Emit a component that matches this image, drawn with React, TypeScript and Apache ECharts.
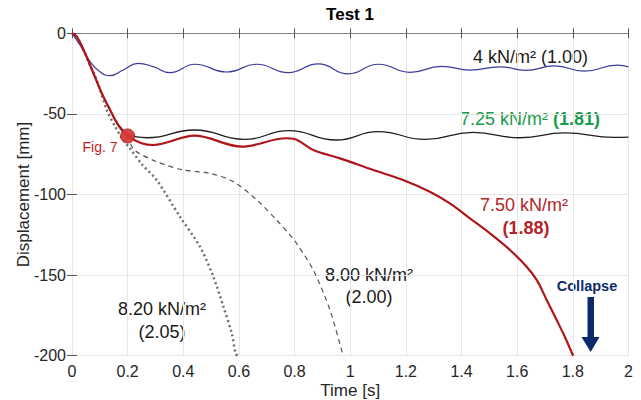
import React, { useEffect, useRef } from "react";
import * as echarts from "echarts";

const FONT = '"Liberation Sans", Arial, Helvetica, sans-serif';

// x axis ticks (s) and y axis ticks (mm)
const xTicks = [0, 0.2, 0.4, 0.6, 0.8, 1, 1.2, 1.4, 1.6, 1.8, 2];
const yTicks = [-200, -150, -100, -50, 0];

// 4 kN/m2 (1.00) - blue
const blueT = [0, 0.029, 0.065, 0.1, 0.137, 0.184, 0.238, 0.292, 0.352, 0.442, 0.556, 0.664, 0.777, 0.885, 0.993, 1.101, 1.215, 1.328, 1.43, 1.54, 1.63, 1.735, 1.84, 1.96, 2.0];
const blueD = [0, -7.3, -17.6, -23.8, -26.3, -22.8, -18.6, -20.7, -24.4, -19.2, -24, -19.2, -24.4, -19, -25.2, -19.2, -24.2, -20.5, -22.8, -20.8, -23, -20.2, -23.5, -19.8, -20.8];

// 7.25 kN/m2 (1.81) - black
const blackT = [0, 0.017, 0.047, 0.077, 0.107, 0.137, 0.166, 0.197, 0.232, 0.27, 0.44, 0.62, 0.78, 0.95, 1.1, 1.27, 1.44, 1.61, 1.77, 1.95, 2.0];
const blackD = [0, -2.1, -12.4, -24.8, -37.2, -47.6, -56.5, -62, -64.3, -64.8, -60, -65.8, -60.4, -66.2, -61, -65.8, -61.4, -64.8, -61.8, -64.6, -64.4];

// 7.50 kN/m2 (1.88) - red
const redT = [0, 0.017, 0.047, 0.077, 0.107, 0.137, 0.166, 0.2, 0.25, 0.292, 0.44, 0.61, 0.77, 0.8, 0.867, 0.963, 1.083, 1.19, 1.286, 1.358, 1.43, 1.502, 1.574, 1.634, 1.67, 1.706, 1.742, 1.771, 1.801];
const redD = [0, -2.1, -12.4, -24.8, -37.2, -47.6, -56.9, -63.7, -68.2, -69.3, -63.5, -70.3, -65.1, -65.6, -72.4, -77.6, -84.8, -91, -98.3, -105.5, -114.8, -124.1, -134.4, -144.8, -153, -165.4, -177.9, -188.2, -200];

// 8.00 kN/m2 (2.00) - dashed
const dashT = [0, 0.017, 0.047, 0.077, 0.107, 0.137, 0.166, 0.2, 0.225, 0.304, 0.4, 0.496, 0.58, 0.664, 0.735, 0.783, 0.807, 0.867, 0.927, 0.969, 0.975];
const dashD = [0, -2.1, -12.4, -24.8, -37.2, -47.6, -56.9, -65, -72.5, -79.6, -84.8, -86.9, -92, -103.4, -115.8, -125, -130.3, -146.8, -171.6, -196.5, -200];

// 8.20 kN/m2 (2.05) - dotted
const dotT = [0, 0.015, 0.041, 0.065, 0.089, 0.125, 0.155, 0.184, 0.208, 0.25, 0.304, 0.388, 0.46, 0.508, 0.544, 0.574, 0.588, 0.595];
const dotD = [0, -1.5, -10.3, -20, -29, -47.6, -57.9, -66.2, -71.3, -81, -91, -113.8, -132.4, -151, -169.6, -186.1, -198.5, -200];

// Fig. 7 marker
const figT = [0.2];
const figD = [-63.7];

const zip = (a: number[], b: number[]) => a.map((v, i) => [v, b[i]]);

const GREEN = "#1b9a4b";
const RED_TXT = "#b32428";
const NAVY = "#0c2a6a";

export default function App() {
  const ref = useRef<HTMLDivElement>(null);
  useEffect(() => {
    if (!ref.current) return;
    const chart = echarts.init(ref.current, undefined, { renderer: "svg" });
    const axisLineStyle = { color: "#808080", width: 1 };
    const tickStyle = { color: "#555555", width: 1 };
    const option: any = {
      animation: false,
      backgroundColor: "#ffffff",
      textStyle: { fontFamily: FONT },
      grid: { left: 72, right: 12.5, top: 33.3, bottom: 44.3, containLabel: false, outerBoundsMode: "none" },
      xAxis: [
        {
          type: "value",
          min: xTicks[0],
          max: xTicks[xTicks.length - 1],
          interval: 0.2,
          position: "bottom",
          axisLine: { show: true, lineStyle: axisLineStyle },
          axisTick: { show: true, inside: true, length: 5, lineStyle: tickStyle },
          axisLabel: { fontSize: 16, color: "#262626", margin: 8, fontFamily: FONT },
          splitLine: { show: true, lineStyle: { color: "#e6e6e6", width: 1 } },
          name: "Time [s]",
          nameLocation: "middle",
          nameGap: 26,
          nameMoveOverlap: false,
          nameTextStyle: { fontSize: 17, color: "#262626", fontFamily: FONT },
        },
        {
          type: "value",
          min: xTicks[0],
          max: xTicks[xTicks.length - 1],
          interval: 0.2,
          position: "top",
          axisLine: { show: true, lineStyle: axisLineStyle },
          axisTick: { show: true, inside: true, length: 5, lineStyle: tickStyle },
          axisLabel: { show: false },
          splitLine: { show: false },
        },
      ],
      yAxis: [
        {
          type: "value",
          min: yTicks[0],
          max: yTicks[yTicks.length - 1],
          interval: 50,
          position: "left",
          axisLine: { show: false },
          axisTick: { show: true, inside: true, length: 5, lineStyle: tickStyle },
          axisLabel: { fontSize: 16, color: "#262626", margin: 6, fontFamily: FONT },
          splitLine: { show: true, lineStyle: { color: "#e6e6e6", width: 1 } },
          name: "Displacement [mm]",
          nameLocation: "middle",
          nameGap: 40,
          nameMoveOverlap: false,
          nameRotate: 90,
          nameTextStyle: { fontSize: 17, color: "#262626", fontFamily: FONT },
        },
        {
          type: "value",
          min: yTicks[0],
          max: yTicks[yTicks.length - 1],
          interval: 50,
          position: "right",
          axisLine: { show: false },
          axisTick: { show: true, inside: true, length: 5, lineStyle: tickStyle },
          axisLabel: { show: false },
          splitLine: { show: false },
        },
      ],
      series: [
        {
          type: "line",
          showSymbol: false,
          smooth: 0.5,
          name: "4 kN/m²",
          data: zip(blueT, blueD),
          lineStyle: { color: "#3a3a9c", width: 1.2 },
          z: 2,
        },
        {
          type: "line",
          showSymbol: false,
          smooth: 0.5,
          name: "7.25 kN/m²",
          data: zip(blackT, blackD),
          lineStyle: { color: "#1e1e1e", width: 1.3 },
          z: 3,
        },
        {
          type: "line",
          showSymbol: false,
          smooth: 0.3,
          name: "8.00 kN/m²",
          data: zip(dashT, dashD),
          lineStyle: { color: "#555555", width: 1.2, type: [5, 4] },
          z: 4,
        },
        {
          type: "line",
          showSymbol: false,
          smooth: 0.3,
          name: "8.20 kN/m²",
          data: zip(dotT, dotD),
          lineStyle: { color: "#6e6e6e", width: 2.5, type: [2, 3] },
          z: 4,
        },
        {
          type: "line",
          showSymbol: false,
          smooth: 0.35,
          name: "7.50 kN/m²",
          data: zip(redT, redD),
          lineStyle: { color: "#b0151a", width: 2.2 },
          z: 5,
        },
        {
          name: "Fig. 7",
          type: "scatter",
          data: zip(figT, figD),
          symbol: "circle",
          symbolSize: 14,
          itemStyle: { color: "#d83636", borderColor: "#b01c1c", borderWidth: 1, opacity: 0.92 },
          z: 6,
        },
      ],
      graphic: [
        {
          type: "text",
          x: 350,
          y: 14,
          style: {
            text: "Test 1",
            fontSize: 17,
            fontWeight: "bold",
            fontFamily: FONT,
            fill: "#000000",
            align: "center",
            verticalAlign: "middle",
          },
        },
        {
          type: "text",
          x: 473,
          y: 57,
          style: {
            text: "4 kN/m² (1.00)",
            fontSize: 18,
            fontFamily: FONT,
            fill: "#1a1a1a",
            align: "left",
            verticalAlign: "middle",
          },
        },
        {
          type: "text",
          x: 460,
          y: 119,
          style: {
            text: "{a|7.25 kN/m²} {b|(1.81)}",
            fontSize: 18,
            fontFamily: FONT,
            fill: GREEN,
            align: "left",
            verticalAlign: "middle",
            rich: {
              a: { fontSize: 18, fontFamily: FONT, fill: GREEN },
              b: { fontSize: 18, fontFamily: FONT, fontWeight: "bold", fill: GREEN },
            },
          },
        },
        {
          type: "text",
          x: 480,
          y: 205,
          style: {
            text: "7.50 kN/m²",
            fontSize: 18,
            fontFamily: FONT,
            fill: RED_TXT,
            align: "left",
            verticalAlign: "middle",
          },
        },
        {
          type: "text",
          x: 526,
          y: 228,
          style: {
            text: "(1.88)",
            fontSize: 18,
            fontWeight: "bold",
            fontFamily: FONT,
            fill: RED_TXT,
            align: "center",
            verticalAlign: "middle",
          },
        },
        {
          type: "text",
          x: 369,
          y: 264,
          style: {
            text: "8.00 kN/m²\n(2.00)",
            fontSize: 18,
            lineHeight: 22,
            fontFamily: FONT,
            fill: "#1a1a1a",
            align: "center",
            verticalAlign: "top",
          },
        },
        {
          type: "text",
          x: 162,
          y: 297,
          style: {
            text: "8.20 kN/m²\n(2.05)",
            fontSize: 18,
            lineHeight: 23,
            fontFamily: FONT,
            fill: "#1a1a1a",
            align: "center",
            verticalAlign: "top",
          },
        },
        {
          type: "text",
          x: 587,
          y: 286,
          style: {
            text: "Collapse",
            fontSize: 14.5,
            fontWeight: "bold",
            fontFamily: FONT,
            fill: NAVY,
            align: "center",
            verticalAlign: "middle",
          },
        },
        {
          type: "rect",
          shape: { x: 587.5, y: 297, width: 6.5, height: 41 },
          style: { fill: NAVY },
        },
        {
          type: "polygon",
          shape: { points: [[581.5, 337], [599.5, 337], [590.7, 352]] },
          style: { fill: NAVY },
        },
        {
          type: "text",
          x: 100,
          y: 147,
          style: {
            text: "Fig. 7",
            fontSize: 14,
            fontFamily: FONT,
            fill: "#c41e1e",
            align: "center",
            verticalAlign: "middle",
          },
        },
      ],
    };
    chart.setOption(option);
    return () => chart.dispose();
  }, []);
  return (
    <div
      ref={ref}
      style={{ position: "fixed", left: 0, top: 0, width: 641, height: 400, background: "#fff" }}
    />
  );
}
